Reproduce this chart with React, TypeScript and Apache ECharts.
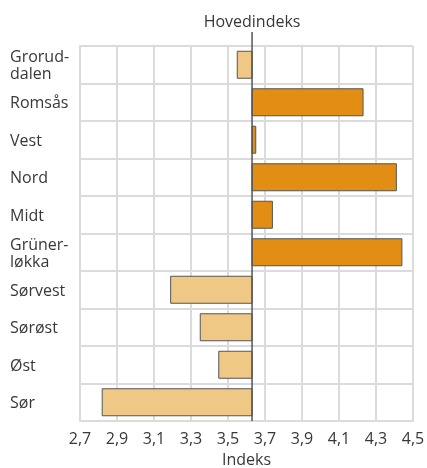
import React, { useEffect, useRef } from "react";
import * as echarts from "echarts";

const categories = ["Grorud-\ndalen", "Romsås", "Vest", "Nord", "Midt", "Grüner-\nløkka", "Sørvest", "Sørøst", "Øst", "Sør"];
const values = [3.55, 4.23, 3.65, 4.41, 3.74, 4.44, 3.19, 3.35, 3.45, 2.82];
const hovedindeks = 3.63;
const axisMin = 2.7;
const axisMax = 4.5;
const axisStep = 0.2;

const FONT = "'Open Sans', sans-serif";
const DARK = "#E28E14";
const LIGHT = "#F0C886";
const GRID = "#DADBDC";
const TEXT = "#383838";

export default function App() {
  const ref = useRef<HTMLDivElement>(null);
  useEffect(() => {
    if (!ref.current) return;
    const chart = echarts.init(ref.current, undefined, { renderer: "svg" });
    const base = hovedindeks - axisMin;
    chart.setOption({
      animation: false,
      grid: { left: 80, right: 14, top: 46, bottom: 47, containLabel: false, outerBoundsMode: "none" },
      xAxis: {
        type: "value",
        min: 0,
        max: axisMax - axisMin,
        interval: axisStep,
        name: "Indeks",
        nameLocation: "middle",
        nameGap: 27,
        nameTextStyle: { fontFamily: FONT, fontSize: 16, color: TEXT },
        axisLine: { show: true, lineStyle: { color: GRID, width: 2 } },
        axisTick: { show: false },
        axisLabel: {
          fontFamily: FONT,
          fontSize: 16,
          color: TEXT,
          margin: 9,
          formatter: (v: number) => (v + axisMin).toFixed(1).replace(".", ","),
        },
        splitLine: { show: true, lineStyle: { color: GRID, width: 2 } },
      },
      yAxis: {
        type: "category",
        data: categories,
        inverse: true,
        axisLine: { show: true, lineStyle: { color: GRID, width: 2 } },
        axisTick: { show: false },
        axisLabel: {
          fontFamily: FONT,
          fontSize: 16,
          color: TEXT,
          align: "left",
          margin: 70,
          lineHeight: 17,
        },
        splitLine: { show: true, lineStyle: { color: GRID, width: 2 } },
      },
      series: [
        {
          type: "custom",
          data: values.map((v, i) => [v - axisMin, i]),
          encode: { x: 0, y: 1 },
          renderItem: (params: any, api: any) => {
            const v = api.value(0);
            const idx = api.value(1);
            const a = api.coord([base, idx]);
            const b = api.coord([v, idx]);
            const h = api.size([0, 1])[1] * 0.72;
            return {
              type: "rect",
              shape: { x: Math.min(a[0], b[0]), y: a[1] - h / 2, width: Math.abs(b[0] - a[0]), height: h },
              style: { fill: v >= base ? DARK : LIGHT, stroke: "#555", lineWidth: 1 },
            };
          },
          z: 2,
        },
        {
          type: "custom",
          data: [[base, 0]],
          encode: { x: 0, y: 1 },
          clip: false,
          z: 3,
          renderItem: (params: any, api: any) => {
            const cs = params.coordSys;
            const p = api.coord([api.value(0), 0]);
            return {
              type: "group",
              children: [
                {
                  type: "line",
                  shape: { x1: p[0], y1: cs.y - 14, x2: p[0], y2: cs.y + cs.height },
                  style: { stroke: "#555", lineWidth: 1.5 },
                },
                {
                  type: "text",
                  x: p[0],
                  y: cs.y - 25,
                  style: {
                    text: "Hovedindeks",
                    fontFamily: FONT,
                    fontSize: 16,
                    fill: TEXT,
                    align: "center",
                    verticalAlign: "middle",
                  },
                },
              ],
            };
          },
        },
      ],
    });
    return () => chart.dispose();
  }, []);
  return <div ref={ref} style={{ position: "fixed", left: 0, top: 0, width: 427, height: 468 }} />;
}
